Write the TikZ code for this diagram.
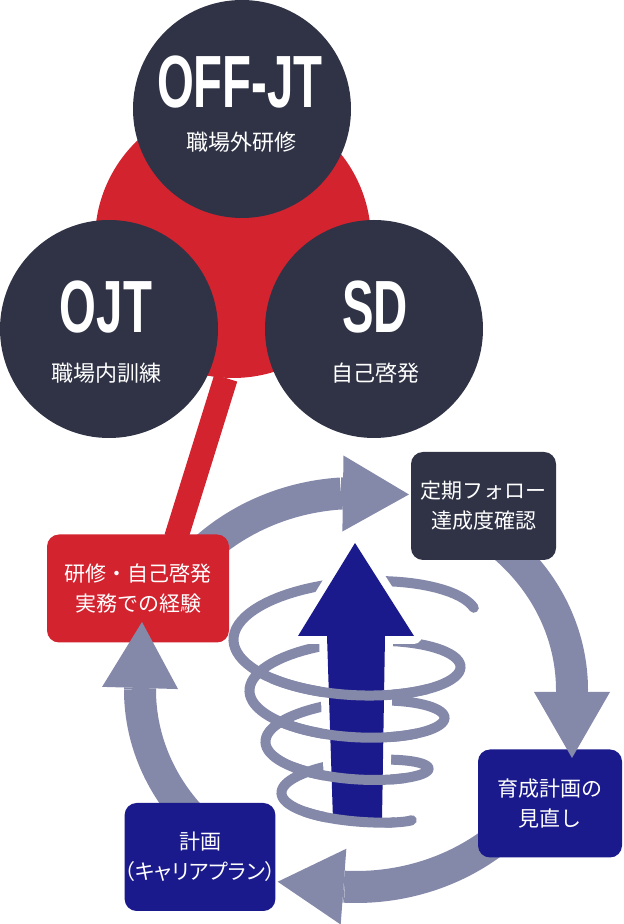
\documentclass[tikz,border=0pt]{standalone}
\usepackage{fontspec}
\usepackage{xcolor}
\usetikzlibrary{arrows.meta}
\newfontfamily\jpfont{Noto Sans CJK JP}
\newfontfamily\capfont[FakeStretch=0.64]{Liberation Sans}
\definecolor{navy}{RGB}{48,51,70}
\definecolor{crimson}{RGB}{211,35,47}
\definecolor{cyclegrey}{RGB}{132,137,170}
\definecolor{royal}{RGB}{26,26,140}

\begin{document}
\begin{tikzpicture}[x=1pt, y=1pt,
    disc/.style={circle, fill=navy, minimum size=218pt, inner sep=0pt},
    titletxt/.style={anchor=base, text=white, font=\capfont\bfseries\fontsize{74}{74}\selectfont},
    subtxt/.style={text=white, font=\jpfont\fontsize{22}{22}\selectfont},
    card/.style={rectangle, rounded corners=12pt, minimum width=145pt, minimum height=108pt, inner sep=0pt, text=white, align=center, font=\jpfont\fontsize{21}{30}\selectfont},
    band/.style={draw=cyclegrey, line width=32pt},
    bandtip/.style={band, -{Triangle[length=66pt, width=76pt, line width=0pt]}},
    coil/.style={draw=cyclegrey, line width=10pt, line cap=round}]

    \useasboundingbox (0,0) rectangle (624,924);

    % red hub and its link down to the cycle
    \node [circle, fill=crimson, minimum size=276pt] (core) at (233,684) {};
    \coordinate (linkfoot) at (176,386);
    \draw [crimson, line width=24pt] (core.267) -- (linkfoot);

    % three ways of training
    \node [disc] (offjt) at (242,815) {};
    \node [disc] (ojt) at (109,595) {};
    \node [disc] (sd) at (374,595) {};
    \node [titletxt] (offjt-t) at (240,816) {OFF-JT};
    \node [titletxt] (ojt-t) at (106,591) {OJT};
    \node [titletxt] (sd-t) at (375,591) {SD};
    \node [subtxt] (offjt-s) at (241,782) {職場外研修};
    \node [subtxt] (ojt-s) at (106,551) {職場内訓練};
    \node [subtxt] (sd-s) at (375,551) {自己啓発};

    % cycle bands
    \coordinate (cyc) at (356,234);
    \draw [band] (cyc) ++(140:216 and 197) arc [start angle=140, end angle=94, x radius=216, y radius=197] coordinate (tipA);
    \draw [band] (cyc) ++(55:216 and 197) arc [start angle=55, end angle=0, x radius=216, y radius=197] coordinate (tipB);
    \draw [band] (cyc) ++(320:216 and 197) arc [start angle=320, end angle=267, x radius=216, y radius=197] coordinate (tipC);
    \draw [band] (cyc) ++(235:216 and 197) arc [start angle=235, end angle=180, x radius=216, y radius=197] coordinate (tipD);

    % steps
    \node [card, fill=crimson, minimum width=182pt] (redbox) at (138,335.5) {研修・自己啓発\\実務での経験};
    \node [card, fill=navy] (follow) at (483.5,418) {定期フォロー\\達成度確認};
    \node [card, fill=royal, minimum width=144pt] (review) at (550,120.5) {育成計画の\\見直し};
    \node [card, fill=royal, minimum width=144pt] (plan) at (200,67) {計画\\{\addfontfeatures{RawFeature=+palt}（キャリアプラン）}};

    % arrow heads
    \draw [bandtip] (tipA) -- ++(68,-1);
    \draw [bandtip] (tipB) -- ++(0,-68);
    \draw [bandtip] (tipC) -- ++(-67,5);
    \draw [bandtip] (tipD) -- ++(2,68);

    % spiral round the growth arrow
    \draw [coil] plot [domain=-0.22:3.72, samples=320] ({351-(121.5-16*\x)*sin(360*\x)}, {296-51*\x+(46-9*\x)*cos(360*\x)});
    \fill [royal, preaction={draw=white, line width=16pt, line join=round}]
        (333,104) -- (327,288) -- (298,288) -- (355,381) -- (414,288) -- (385,288) -- (382,104) -- cycle;
    \foreach \a/\b in {0.38/0.62, 1.38/1.62, 2.38/2.62, 3.38/3.62}
        \draw [coil] plot [domain=\a:\b, samples=40] ({351-(121.5-16*\x)*sin(360*\x)}, {296-51*\x+(46-9*\x)*cos(360*\x)});
\end{tikzpicture}
\end{document}
